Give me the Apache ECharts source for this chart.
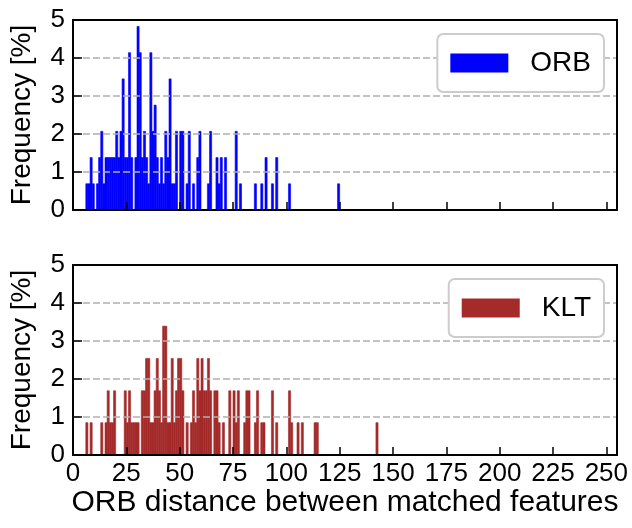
<!doctype html>
<html>
<head>
<meta charset="utf-8">
<title>ORB distance histogram</title>
<script src="https://cdn.jsdelivr.net/npm/echarts@6/dist/echarts.min.js"></script>
<style>
  body { margin: 0; background: #fff; }
  #chart { width: 632px; height: 528px; }
</style>
</head>
<body>
<div id="chart"></div>
<script>
// histogram bins (left edge, width 1) and frequency in percent
var orbBins = [6,7,8,9,11,12,13,14,15,16,17,18,19,20,21,22,23,24,25,26,27,29,30,31,32,33,34,35,36,37,38,39,40,41,42,43,44,45,46,47,48,50,51,53,54,56,58,59,63,64,67,68,69,71,76,78,85,88,90,93,95,101,124];
var orbPct = [0.69,0.69,1.38,0.69, 0.69,1.38,2.07,0.69,
  1.38,1.38,1.38,1.38,1.38,2.07,1.38,2.07,3.45,1.38,1.38,4.14,1.38,
  1.38,4.83,4.14,1.38,2.07,1.38,0.69,4.14,2.07,2.76,1.38,0.69,1.38,0.69,2.07,1.38,3.45,0.69,0.69,2.07,
  2.07,2.07,0.69,2.07,0.69,1.38,2.07,0.69,2.07,1.38,0.69,1.38,1.38,2.07,0.69,0.69,0.69,1.38,0.69,1.38,0.69,0.69];

var kltBins = [6,8,13,15,16,17,18,19,24,25,26,27,28,29,30,32,33,34,35,36,37,38,39,40,41,42,43,44,45,46,47,48,49,50,51,53,55,56,57,58,59,60,61,62,63,64,66,67,68,70,73,75,76,77,80,81,82,85,86,88,89,93,95,101,102,105,107,113,114,142];
var kltPct = [0.85,0.85,0.85,0.85,1.69,0.85,0.85,1.69,1.69,0.85,1.69,0.85,0.85,0.85,0.85,1.69,1.69,2.54,2.54,0.85,
  0.85,1.69,2.54,1.69,0.85,3.39,3.39,0.85,0.85,2.54,0.85,1.69,2.54,2.54,1.69,0.85,0.85,1.69,0.85,2.54,
  1.69,2.54,1.69,1.69,2.54,1.69,1.69,1.69,0.85,0.85,1.69,1.69,0.85,1.69,0.85,1.69,1.69,0.85,1.69,0.85,
  0.85,1.69,0.85,1.69,0.85,0.85,0.85,0.85,0.85,0.85];

var xTicks = { min: 0, max: 255, interval: 25 };
var yTicks = { min: 0, max: 5, interval: 1 };

var font = 'Liberation Sans, Arial, sans-serif';

function pairs(bins, vals) {
  return bins.map(function (b, i) { return [b, vals[i]]; });
}

// one rectangle per bin, placed through the axis scales
function renderBin(params, api) {
  var x0 = api.value(0);
  var top = api.coord([x0, api.value(1)]);
  var bot = api.coord([x0 + 1, 0]);
  var c = api.visual('color');
  return {
    type: 'rect',
    shape: { x: top[0], y: top[1], width: bot[0] - top[0], height: bot[1] - top[1] },
    style: { fill: c, stroke: c, lineWidth: 0.6 }
  };
}

function xAxis(idx, showLabels) {
  return {
    type: 'value', gridIndex: idx,
    min: xTicks.min, max: xTicks.max, interval: xTicks.interval,
    z: 6,
    axisLine: { show: false },
    axisTick: { show: true, inside: true, length: 8, lineStyle: { color: '#000', width: 1.5 } },
    axisLabel: { show: showLabels, color: '#000', fontSize: 26, fontFamily: font, margin: 6 },
    splitLine: { show: false },
    name: showLabels ? 'ORB distance between matched features' : '',
    nameLocation: 'middle', nameGap: 30,
    nameTextStyle: { color: '#000', fontSize: 30, fontFamily: font }
  };
}

function yAxis(idx) {
  return {
    type: 'value', gridIndex: idx,
    min: yTicks.min, max: yTicks.max, interval: yTicks.interval,
    z: 5,
    axisLine: { show: false },
    axisTick: { show: true, inside: true, length: 9, lineStyle: { color: '#000', width: 1.5 } },
    axisLabel: { color: '#000', fontSize: 26, fontFamily: font, margin: 8 },
    splitLine: { show: true, lineStyle: { color: '#b0b0b0', width: 1.5, type: [7, 3] } },
    name: 'Frequency [%]', nameLocation: 'middle', nameGap: 37,
    nameTextStyle: { color: '#000', fontSize: 28, fontFamily: font }
  };
}

function legend(top, name) {
  return {
    data: [name], right: 28, top: top,
    orient: 'vertical',
    z: 20,
    backgroundColor: '#fff',
    borderColor: '#cccccc', borderWidth: 2, borderRadius: 6,
    padding: [15, 13, 15, 13],
    itemWidth: 58, itemHeight: 19,
    icon: 'rect',
    textStyle: { color: '#000', fontSize: 28, fontFamily: font, lineHeight: 19, padding: [0, 0, 0, 17] }
  };
}

var chart = echarts.init(document.getElementById('chart'), null, { renderer: 'canvas' });
chart.setOption({
  animation: false,
  backgroundColor: '#fff',
  grid: [
    { left: 73, right: 15, top: 20, height: 190, show: true, borderColor: '#000', borderWidth: 2, backgroundColor: 'transparent', z: 10 },
    { left: 73, right: 15, top: 265, height: 190, show: true, borderColor: '#000', borderWidth: 2, backgroundColor: 'transparent', z: 10 }
  ],
  xAxis: [xAxis(0, false), xAxis(1, true)],
  yAxis: [yAxis(0), yAxis(1)],
  legend: [legend(34, 'ORB'), legend(279, 'KLT')],
  series: [
    { name: 'ORB', type: 'custom', xAxisIndex: 0, yAxisIndex: 0, color: '#0000ff',
      renderItem: renderBin, encode: { x: 0, y: 1 }, data: pairs(orbBins, orbPct), z: 2 },
    { name: 'KLT', type: 'custom', xAxisIndex: 1, yAxisIndex: 1, color: '#a52a2a',
      renderItem: renderBin, encode: { x: 0, y: 1 }, data: pairs(kltBins, kltPct), z: 2 }
  ]
});
</script>
</body>
</html>
